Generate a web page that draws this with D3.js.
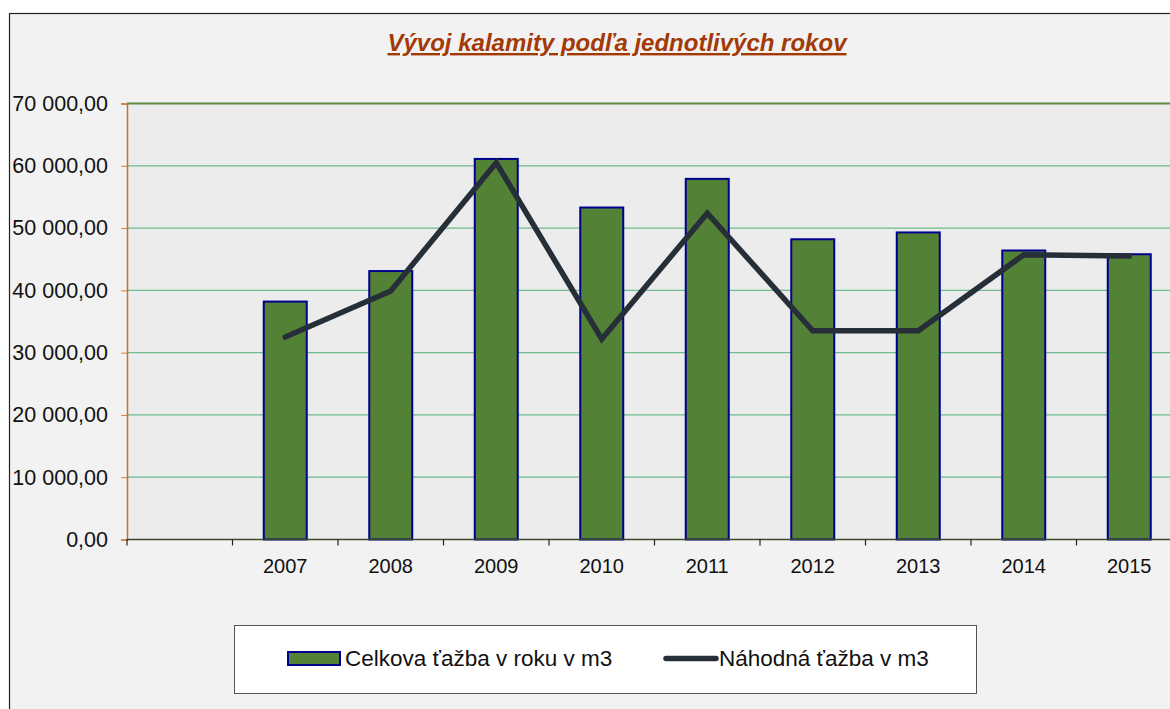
<!DOCTYPE html>
<html>
<head>
<meta charset="utf-8">
<script src="https://cdn.jsdelivr.net/npm/d3@7.9.0/dist/d3.min.js"></script>
<style>
  body { margin: 0; background: #ffffff; }
  svg { display: block; font-family: "Liberation Sans", Arial, sans-serif; }
</style>
</head>
<body>
<svg id="chart" width="1170" height="709"></svg>
<script>
// data
const categories = ["", "2007", "2008", "2009", "2010", "2011", "2012", "2013", "2014", "2015"];
const totalHarvest = [null, 38200, 43100, 61100, 53300, 57900, 48200, 49300, 46400, 45800];
const randomHarvest = [null, 32500, 39900, 60500, 32200, 52400, 33500, 33500, 45700, 45500];
const yTicks = [0, 10000, 20000, 30000, 40000, 50000, 60000, 70000];

const title = "Vývoj kalamity podľa jednotlivých rokov";
const barLabel = "Celkova ťažba v roku v m3";
const lineLabel = "Náhodná ťažba v m3";

const svg = d3.select("#chart");

// outer chart area (cut off at right and bottom like the reference)
svg.append("rect")
  .attr("x", 9.5).attr("y", 13.5)
  .attr("width", 1200).attr("height", 720)
  .attr("fill", "#f2f2f2")
  .attr("stroke", "#222").attr("stroke-width", 1.2);

const plotL = 127, plotT = 103.5, plotB = 539.5, plotR = 127 + 105.5 * categories.length;

const x = d3.scaleBand().domain(d3.range(categories.length)).range([plotL, plotR]).paddingInner(0);
const y = d3.scaleLinear().domain([0, 70000]).range([plotB, plotT]);

// plot background
svg.append("rect")
  .attr("x", plotL).attr("y", plotT)
  .attr("width", plotR - plotL).attr("height", plotB - plotT)
  .attr("fill", "#ececec");

// gridlines
svg.append("g").selectAll("line")
  .data(yTicks.slice(1, -1))
  .join("line")
  .attr("x1", plotL).attr("x2", plotR)
  .attr("y1", d => y(d)).attr("y2", d => y(d))
  .attr("stroke", "#6dbb8e").attr("stroke-width", 1.2);

// top border of plot
svg.append("line")
  .attr("x1", plotL).attr("x2", plotR)
  .attr("y1", plotT).attr("y2", plotT)
  .attr("stroke", "#5e8a42").attr("stroke-width", 2);

// y axis
const fmt = d3.formatLocale({ decimal: ",", thousands: " ", grouping: [3], currency: ["", ""] }).format(",.2f");
const yAxis = svg.append("g")
  .attr("transform", `translate(${plotL},0)`)
  .call(d3.axisLeft(y).tickValues(yTicks).tickFormat(fmt).tickSize(6).tickPadding(13));
yAxis.select(".domain").attr("stroke", "#b8743f").attr("stroke-width", 1.5);
yAxis.selectAll(".tick line").attr("stroke", "#e07a3a");
yAxis.selectAll("text").attr("font-size", 21.5).attr("fill", "#111")
  .attr("font-family", "'Liberation Sans', Arial, sans-serif");

// bars
const barW = 43;
svg.append("g").selectAll("rect")
  .data(totalHarvest.map((v, i) => ({ v, i })).filter(d => d.v != null))
  .join("rect")
  .attr("x", d => x(d.i) + x.bandwidth() / 2 - barW / 2)
  .attr("y", d => y(d.v))
  .attr("width", barW)
  .attr("height", d => y(0) - y(d.v))
  .attr("fill", "#538135")
  .attr("stroke", "#00008f").attr("stroke-width", 2);

// x axis
const xAxis = svg.append("g")
  .attr("transform", `translate(0,${plotB})`);
xAxis.append("line")
  .attr("x1", plotL).attr("x2", plotR)
  .attr("stroke", "#3b4a2a").attr("stroke-width", 1.5);
xAxis.selectAll(".tk")
  .data(d3.range(categories.length + 1))
  .join("line").attr("class", "tk")
  .attr("x1", d => plotL + d * x.bandwidth()).attr("x2", d => plotL + d * x.bandwidth())
  .attr("y1", 0).attr("y2", 6)
  .attr("stroke", "#222").attr("stroke-width", 1.2);
xAxis.selectAll("text")
  .data(categories.map((c, i) => ({ c, i })))
  .join("text")
  .attr("x", d => x(d.i) + x.bandwidth() / 2)
  .attr("y", 33)
  .attr("text-anchor", "middle")
  .attr("font-size", 20).attr("fill", "#111")
  .text(d => d.c);

// line series
const line = d3.line()
  .defined(d => d.v != null)
  .x(d => x(d.i) + x.bandwidth() / 2)
  .y(d => y(d.v));
svg.append("path")
  .datum(randomHarvest.map((v, i) => ({ v, i })))
  .attr("d", line)
  .attr("fill", "none")
  .attr("stroke", "#262e38").attr("stroke-width", 5.5)
  .attr("stroke-linecap", "round").attr("stroke-linejoin", "miter");

// title
svg.append("text")
  .attr("x", 617).attr("y", 51)
  .attr("text-anchor", "middle")
  .attr("font-size", 24).attr("font-weight", "bold").attr("font-style", "italic")
  .attr("text-decoration", "underline")
  .attr("fill", "#a33a06")
  .text(title);

// legend
const lg = svg.append("g");
lg.append("rect")
  .attr("x", 234.5).attr("y", 625.5).attr("width", 742).attr("height", 68)
  .attr("fill", "#ffffff").attr("stroke", "#555").attr("stroke-width", 1);
lg.append("rect")
  .attr("x", 288).attr("y", 652).attr("width", 52).attr("height", 13)
  .attr("fill", "#538135").attr("stroke", "#00008f").attr("stroke-width", 2);
lg.append("text")
  .attr("x", 345).attr("y", 666)
  .attr("font-size", 22.5).attr("fill", "#111")
  .text(barLabel);
lg.append("line")
  .attr("x1", 666).attr("x2", 716).attr("y1", 658.5).attr("y2", 658.5)
  .attr("stroke", "#262e38").attr("stroke-width", 5.5).attr("stroke-linecap", "round");
lg.append("text")
  .attr("x", 719).attr("y", 666)
  .attr("font-size", 22.5).attr("fill", "#111")
  .text(lineLabel);
</script>
</body>
</html>
